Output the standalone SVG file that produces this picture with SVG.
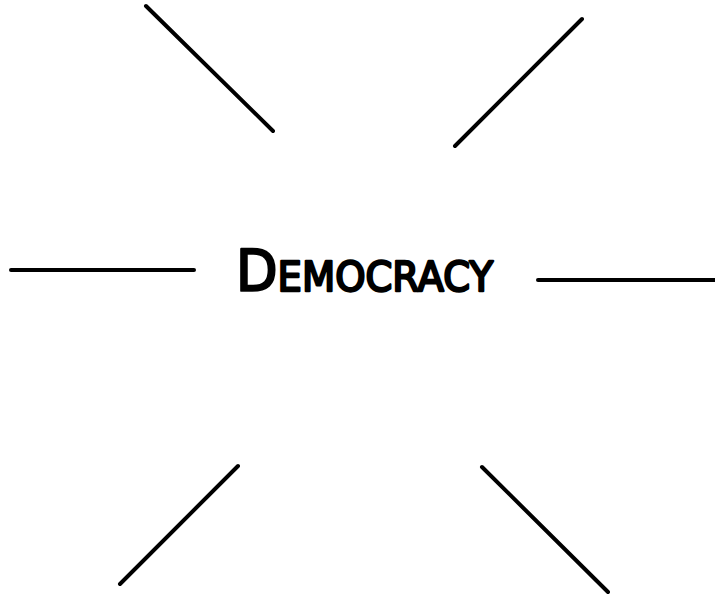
<svg xmlns="http://www.w3.org/2000/svg" width="715" height="596" viewBox="0 0 715 596">
  <style>
    .ray { stroke: #000; stroke-width: 4; stroke-linecap: round; fill: none; }
    .title { font-family: "DejaVu Sans", "Liberation Sans", sans-serif; fill: #000; stroke: #000; stroke-width: 2.4; stroke-linejoin: round; }
  </style>
  <rect width="715" height="596" fill="#fff"/>
  <g id="center">
    <text class="title" x="236" y="291" textLength="257" lengthAdjust="spacingAndGlyphs"><tspan font-size="57.5">D</tspan><tspan font-size="41">EMOCRACY</tspan></text>
  </g>
  <g id="connectors">
    <line class="ray" x1="11" y1="270" x2="194" y2="270"/>
    <line class="ray" x1="538" y1="280" x2="715" y2="280"/>
    <line class="ray" x1="146" y1="6" x2="273" y2="131"/>
    <line class="ray" x1="582" y1="19" x2="455" y2="146"/>
    <line class="ray" x1="238" y1="466" x2="120" y2="584"/>
    <line class="ray" x1="482" y1="467" x2="608" y2="592"/>
  </g>
</svg>
